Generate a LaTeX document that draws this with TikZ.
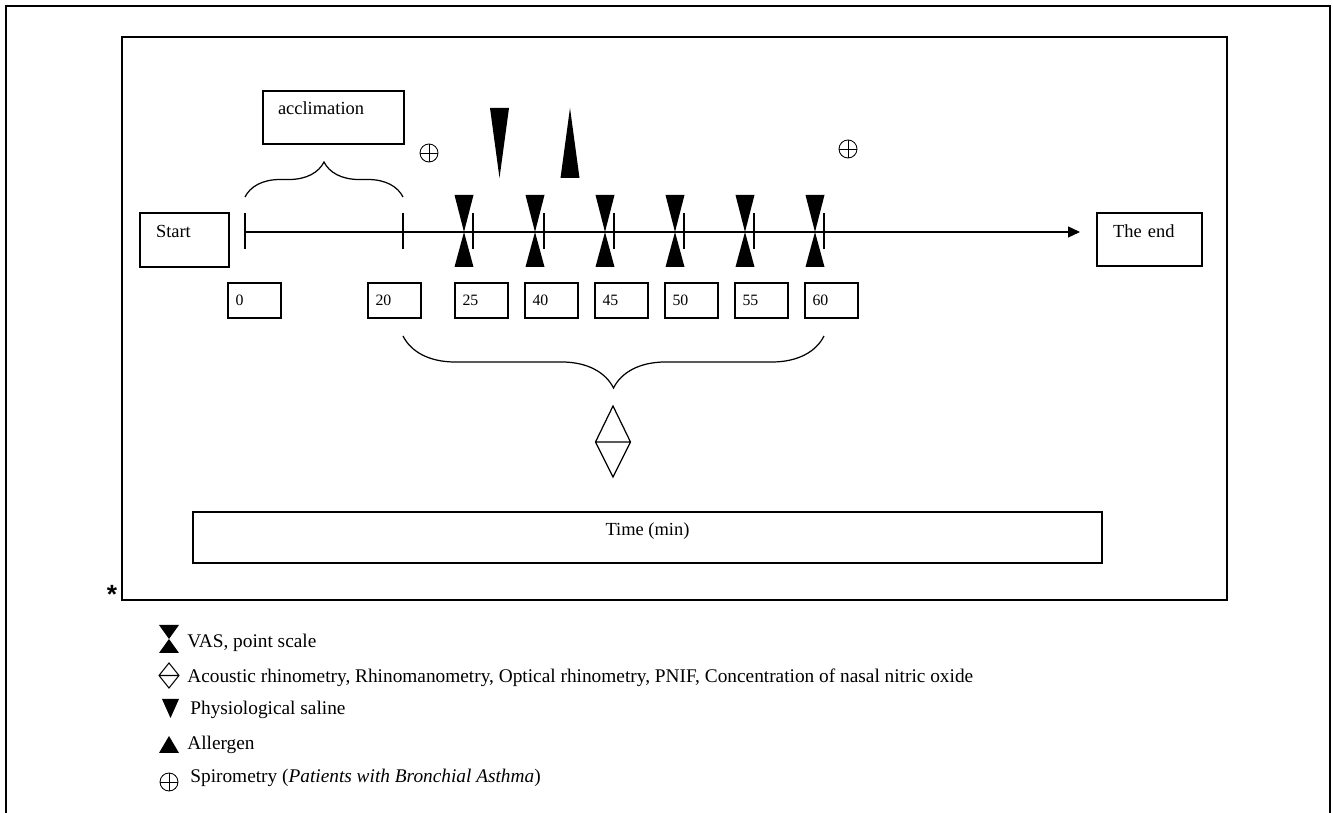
\documentclass[tikz,border=0pt]{standalone}
\usepackage{fontspec}
\setmainfont{Liberation Serif}
\setsansfont{Liberation Sans}
\usetikzlibrary{arrows.meta,decorations.pathreplacing}
\tikzset{
  box/.style={draw, line width=0.8pt, align=left, inner ysep=0.15cm, font=\fontsize{10.5}{12}\selectfont},
  numbox/.style={draw, line width=0.8pt, minimum height=0.7cm, text width=0.76cm, inner xsep=0.15cm, align=left, font=\fontsize{9}{10}\selectfont},
  brc/.style={decorate, decoration={brace, amplitude=#1}, line width=0.7pt},
  spiro/.style={circle, draw, line width=0.5pt, minimum size=0.36cm, inner sep=0pt,
    path picture={\draw[line width=0.5pt] (path picture bounding box.north) -- (path picture bounding box.south)
      (path picture bounding box.west) -- (path picture bounding box.east);}},
  legtext/.style={anchor=west, inner sep=0pt, font=\fontsize{11}{13}\selectfont}
}
\begin{document}
\begin{tikzpicture}[x=0.02cm, y=-0.02cm]
\useasboundingbox (0,0) rectangle (1333,813);
% frames
\draw[line width=0.6pt] (6,813) -- (6,6) -- (1330,6) -- (1330,813);
\draw[line width=1.2pt] (122,37) rectangle (1227,600);
\node[font=\sffamily\bfseries\fontsize{15}{15}\selectfont, anchor=base, inner sep=0pt] (ast) at (112,604) {*};
% boxes
\node[box, text width=1.14cm, inner xsep=0.32cm, text height=0.35cm, text depth=0.43cm] (start) at (184.5,240) {Start};
\node[box, text width=2.22cm, inner xsep=0.3cm, text height=0.33cm, text depth=0.43cm] (accl) at (333.5,117.5) {acclimation};
\node[box, text width=1.46cm, inner xsep=0.32cm, text height=0.35cm, text depth=0.41cm] (end) at (1149.5,239.5) {The end};
\node[box, minimum width=18.18cm, align=center, text height=0.33cm, text depth=0.39cm] (time) at (647.5,537.5) {Time (min)};
\foreach \v/\x in {0/254.5, 20/394.5, 25/481.5, 40/551.5, 45/621.5, 50/691.5, 55/761.5, 60/831.5}
  \node[numbox] (n\v) at (\x,300.5) {\v};
% time line
\coordinate (t0) at (245,232);
\coordinate (t1) at (1080,232);
\draw[line width=0.8pt, -{Triangle[length=0.24cm, width=0.22cm]}] (t0) -- (t1);
\draw[line width=0.6pt] (245,213) -- (245,249) (403,213) -- (403,249);
\foreach \x in {464,535,605,675,745,815} {
  \fill (\x-9.5,195) -- (\x+9.5,195) -- (\x,232) -- cycle;
  \fill (\x,232) -- (\x+9.5,267) -- (\x-9.5,267) -- cycle;
  \draw[line width=0.6pt] (\x+9,213) -- (\x+9,249);
}
% saline, allergen, spirometry
\fill (490,108) -- (509,108) -- (499.5,178) -- cycle;
\fill (570,108) -- (579.5,178) -- (560.5,178) -- cycle;
\node[spiro] (sp1) at (429,153) {};
\node[spiro] (sp2) at (848,149) {};
% braces
\draw[brc=0.7cm] (245,197) -- (403,197);
\draw[brc=1.04cm] (824,336) -- (403,336);
\draw[line width=0.7pt] (613,406) -- (630.5,442) -- (613,477) -- (595.5,442) -- cycle (595.5,442) -- (630.5,442);
% legend
\fill (159,625) -- (179,625) -- (169,639) -- cycle;
\fill (169,639) -- (179,653) -- (159,653) -- cycle;
\draw[line width=0.6pt] (169,663) -- (179,675.5) -- (169,688) -- (159,675.5) -- cycle (159,675.5) -- (179,675.5);
\fill (162,699) -- (179,699) -- (170.5,718) -- cycle;
\fill (169,736) -- (179,753) -- (159,753) -- cycle;
\node[spiro] (sp3) at (169,782) {};
\node[legtext] (lvas) at (187,643) {VAS, point scale};
\node[legtext] (lrhino) at (187,678) {Acoustic rhinometry, Rhinomanometry, Optical rhinometry, PNIF, Concentration of nasal nitric oxide};
\node[legtext] (lsal) at (190,710) {Physiological saline};
\node[legtext] (lall) at (187,745) {Allergen};
\node[legtext] (lspi) at (190,778) {Spirometry (\textit{Patients with Bronchial Asthma})};
\end{tikzpicture}
\end{document}
